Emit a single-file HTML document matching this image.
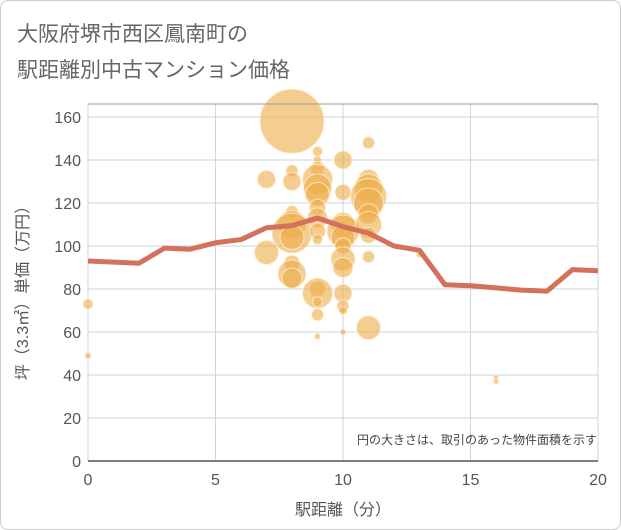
<!DOCTYPE html>
<html><head><meta charset="utf-8"><style>
body{margin:0;background:#fff;font-family:"Liberation Sans","Noto Sans CJK JP",sans-serif;}
#wrap{position:relative;width:619px;height:528px;border:1px solid #ccc;border-radius:8px;overflow:hidden}
</style></head><body>
<div id="wrap">
<svg id="chart" width="621" height="530">
<text x="16" y="40" font-size="21" fill="#666">大阪府堺市西区鳳南町の</text>
<text x="16" y="76" font-size="21" fill="#666">駅距離別中古マンション価格</text>
<g id="grid"></g><g id="bubbles"></g><g id="line"></g><g id="axes"></g>
<text x="596" y="443" font-size="12" fill="#444" text-anchor="end">円の大きさは、取引のあった物件面積を示す</text>
<text x="342" y="514" font-size="16" fill="#555" text-anchor="middle">駅距離（分）</text>
<text transform="translate(27,288) rotate(-90)" font-size="16" fill="#555" text-anchor="middle">坪（3.3㎡）単価（万円）</text>
</svg></div>
<script>
const xTicks=[0,5,10,15,20];
const yTicks=[0,20,40,60,80,100,120,140,160];
const lineX=[0,2,3,4,5,6,7,8,9,10,11,12,13,14,15,16,17,18,19,20];
const lineY=[93,92,99,98.5,101.5,103,108.5,109.5,113,109,106,100,98,82,81.5,80.5,79.5,79,89,88.5];
const bx=[0,0,8,7,8,8,8,8,8,8,7,8,8,8,9,9,9,9,9,9,9,9,9,9,9,9,9,9,9,10,10,10,10,10,10,10,10,10,10,10,10,11,11,11,11,11,11,11,11,11,11,13,16,16];
const by=[73,49,158,131,135,130,116,110,106,104,97,92,87,85,144,140,136,131,127,124,118,113,107,103,80,78,74,68,58,140,125,110,107,104,100,94,90,78,72,70,60,148,131,127,123,120,115,110,105,95,62,96,39,37];
const bs=[5,3,32,9,6,9,6,14,20,12,12,8,14,10,5,4,7,15,14,12,8,10,8,5,8,15,5,6,3,9,8,12,16,12,8,12,10,9,6,4,3,6,10,14,18,15,10,13,8,6,12,3,2.5,2.5];
const NS='http://www.w3.org/2000/svg';
const X0=87,X1=597,Y0=460,Y1=116,YT=103;
const sx=v=>X0+(X1-X0)*v/20, sy=v=>Y0-(Y0-Y1)*v/160;
function mk(t,a,p){const e=document.createElementNS(NS,t);for(const k in a)e.setAttribute(k,a[k]);document.getElementById(p).appendChild(e);return e;}
yTicks.forEach(v=>{const l=mk('line',{x1:X0,x2:X1,y1:sy(v),y2:sy(v),stroke:'#c9d6e3','stroke-width':1},'grid');


const t=mk('text',{x:X0-7,y:sy(v)+6,'text-anchor':'end','font-size':16,fill:'#555'},'axes');t.textContent=v;

});
xTicks.forEach(v=>{const l=mk('line',{x1:sx(v),x2:sx(v),y1:YT,y2:Y0,stroke:'#c9d6e3','stroke-width':1},'grid');


const t=mk('text',{x:sx(v),y:Y0+24,'text-anchor':'middle','font-size':16,fill:'#555'},'axes');t.textContent=v;

});
const tb=mk('line',{x1:X0,x2:X1,y1:YT,y2:YT,stroke:'#999'},'axes');


const ax=mk('line',{x1:X0,x2:X1,y1:Y0,y2:Y0,stroke:'#555','stroke-width':1.5},'axes');


bx.forEach((v,i)=>{const c=mk('circle',{cx:sx(v),cy:sy(by[i]),r:bs[i],fill:'rgba(236,172,72,0.6)',stroke:'rgba(255,240,210,0.8)','stroke-width':1},'bubbles');

});
const p=mk('polyline',{points:lineX.map((v,i)=>sx(v)+','+sy(lineY[i])).join(' '),fill:'none',stroke:'#d4715c','stroke-width':5,'stroke-linejoin':'round'},'line');


</script>
</body></html>
